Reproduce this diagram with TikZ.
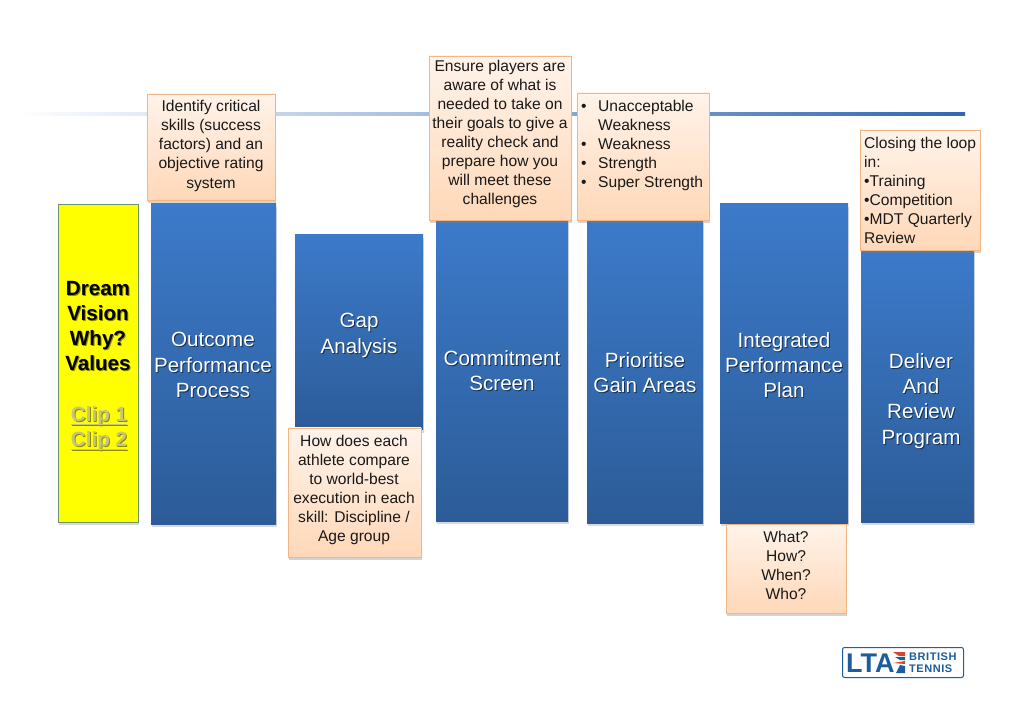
\documentclass[tikz,border=0pt]{standalone}
\usepackage{fontspec}
\setmainfont{Liberation Sans}
\usetikzlibrary{shadows}
\definecolor{barTop}{HTML}{3C7ACA}
\definecolor{barBot}{HTML}{2C5C98}
\definecolor{noteTop}{HTML}{FFF3EA}
\definecolor{noteBot}{HTML}{FFD8B8}
\definecolor{noteEdge}{HTML}{F2B684}
\definecolor{dreamYellow}{HTML}{FFFF00}
\definecolor{clipText}{HTML}{C4C484}
\definecolor{lineBlue}{HTML}{2F67B0}
\definecolor{logoBlue}{HTML}{1D5C9E}
\definecolor{logoRed}{HTML}{D2452F}
\tikzset{
  bluebar/.style={rectangle,top color=barTop,bottom color=barBot,drop shadow={shadow xshift=1pt,shadow yshift=-3pt,opacity=0.3}},
  yellowbar/.style={rectangle,draw=gray!85!green,line width=0.8pt,fill=dreamYellow,drop shadow={shadow xshift=1pt,shadow yshift=-3pt,opacity=0.3}},
  note/.style={rectangle,draw=noteEdge,line width=0.9pt,top color=noteTop,bottom color=noteBot,drop shadow={shadow xshift=1pt,shadow yshift=-3pt,opacity=0.35}},
  notetext/.style={inner sep=0pt,align=center,text=black!90,font=\fontsize{15.6}{19}\selectfont},
  bartext/.style={inner sep=0pt,align=center,text=white,font=\fontsize{20.6}{25.2}\selectfont},
  bartextback/.style={inner sep=0pt,align=center,text=black,opacity=0.55,font=\fontsize{20.6}{25.2}\selectfont},
  logotext/.style={inner sep=0pt,anchor=west,text=logoBlue,font=\fontsize{11}{11}\selectfont\bfseries\addfontfeature{LetterSpace=5}},
}
\newcommand{\clipline}[1]{\setbox0=\hbox{#1}\rlap{\rule[-3.5pt]{\wd0}{1.2pt}}\box0}
\begin{document}
\begin{tikzpicture}[x=1pt,y=-1pt]
\useasboundingbox (0,0) rectangle (1023,708);

% line behind the notes
\shade[left color=white,right color=lineBlue,middle color=lineBlue!50!white] (15,112.5) rectangle (965,116);

% bars
\node[yellowbar,minimum width=80pt,minimum height=318pt] (dream) at (98,363) {};
\node[bluebar,minimum width=125pt,minimum height=320pt] (outcome) at (213.5,364) {};
\node[bluebar,minimum width=128pt,minimum height=195pt] (gap) at (359,332.5) {};
\node[bluebar,minimum width=132pt,minimum height=301pt] (commitment) at (502,370.5) {};
\node[bluebar,minimum width=116pt,minimum height=303pt] (prioritise) at (645,371.5) {};
\node[bluebar,minimum width=128pt,minimum height=319pt] (integrated) at (784,363.5) {};
\node[bluebar,minimum width=113pt,minimum height=272pt] (deliver) at (917.5,386) {};

% bar labels
\node[bartextback] at (214,366) {Outcome\\Performance\\Process};
\node[bartext] (outcomelabel) at (213,365) {Outcome\\Performance\\Process};
\node[bartextback] at (360,336.5) {Gap\\Analysis};
\node[bartext] (gaplabel) at (359,335.5) {Gap\\Analysis};
\node[bartextback] at (503,372) {Commitment\\Screen};
\node[bartext] (commitmentlabel) at (502,371) {Commitment\\Screen};
\node[bartextback] at (646,374) {Prioritise\\Gain Areas};
\node[bartext] (prioritiselabel) at (645,373) {Prioritise\\Gain Areas};
\node[bartextback] at (785,366) {Integrated\\Performance\\Plan};
\node[bartext] (integratedlabel) at (784,365) {Integrated\\Performance\\Plan};
\node[bartextback] at (922,402) {Deliver\\And\\Review\\Program};
\node[bartext] (deliverlabel) at (921,401) {Deliver\\And\\Review\\Program};

\node[inner sep=0pt,align=center,text=black!45!dreamYellow,font=\fontsize{20.6}{25.2}\selectfont\bfseries] at (99,327) {Dream\\Vision\\Why?\\Values};
\node[inner sep=0pt,align=center,font=\fontsize{20.6}{25.2}\selectfont\bfseries] (dreamlabel) at (98,326) {Dream\\Vision\\Why?\\Values};
\node[inner sep=0pt,align=center,text=black!45!dreamYellow,font=\fontsize{20.6}{25.2}\selectfont\bfseries] at (100,430) {\clipline{Clip 1}\\\clipline{Clip 2}};
\node[inner sep=0pt,align=center,text=clipText,font=\fontsize{20.6}{25.2}\selectfont\bfseries] (cliplabel) at (99,429) {\clipline{Clip 1}\\\clipline{Clip 2}};

% notes
\node[note,minimum width=128pt,minimum height=106pt] (identify) at (211,147) {};
\node[notetext] (identifytext) at (211,146) {Identify critical\\skills (success\\factors) and an\\objective rating\\[1.5pt]system};
\node[note,minimum width=142pt,minimum height=164pt] (ensure) at (500,138) {};
\node[notetext] (ensuretext) at (500,133.5) {Ensure players are\\aware of what is\\needed to take on\\their goals to give a\\reality check and\\prepare how you\\will meet these\\challenges};
\node[note,minimum width=132pt,minimum height=127pt] (levels) at (643,156.5) {};
\node[notetext,align=left,anchor=north west] (levelstext) at (581,100) {\makebox[17pt][l]{•}Unacceptable\\\hspace*{17pt}Weakness\\\makebox[17pt][l]{•}Weakness\\\makebox[17pt][l]{•}Strength\\\makebox[17pt][l]{•}Super Strength};
\node[note,minimum width=120pt,minimum height=120pt] (closing) at (920,190) {};
\node[notetext,align=left,anchor=north west] (closingtext) at (864,137) {Closing the loop\\in:\\•Training\\•Competition\\•MDT Quarterly\\Review};
\node[note,minimum width=133pt,minimum height=129pt] (compare) at (354.5,492.5) {};
\node[notetext] (comparetext) at (354,489.5) {How does each\\athlete compare\\to world-best\\execution in each\\skill: Discipline /\\Age group};
\node[note,minimum width=120pt,minimum height=89pt] (what) at (786,568.5) {};
\node[notetext] (whattext) at (786,565.5) {What?\\How?\\When?\\Who?};

% logo
\node[draw=logoBlue,line width=1pt,rounded corners=2pt,fill=white,minimum width=121pt,minimum height=30pt] (logo) at (903,662.5) {};
\node[inner sep=0pt,anchor=west,text=logoBlue,font=\fontsize{27}{27}\selectfont\bfseries] (lta) at (846,663) {LTA};
\fill[logoRed] (893,652) -- (905,652) -- (905,656) -- (899,656) -- cycle;
\fill[logoRed] (893,663) -- (905,661) -- (905,664) -- cycle;
\fill[logoBlue] (895,657) -- (905,657) -- (905,660) -- (900,660) -- cycle;
\fill[logoBlue] (896,673) -- (900,665) -- (905,666) -- (905,673) -- cycle;
\node[logotext] (british) at (909,656.5) {BRITISH};
\node[logotext] (tennis) at (909,668.5) {TENNIS};
\end{tikzpicture}
\end{document}
